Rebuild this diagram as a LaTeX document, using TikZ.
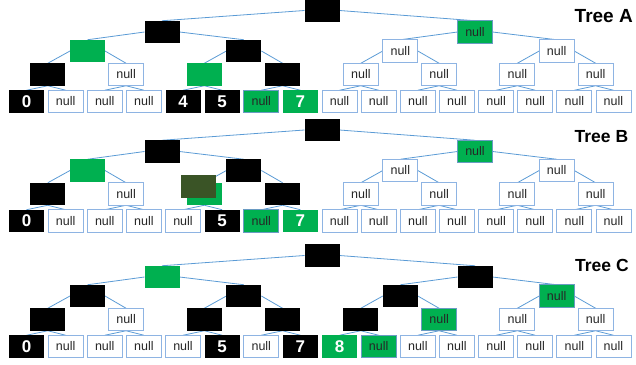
\documentclass[tikz,border=0pt]{standalone}
\usepackage{fontspec}
\setmainfont{Liberation Sans}
\pgfdeclarelayer{bg}
\pgfsetlayers{bg,main}
\definecolor{pgreen}{HTML}{00B050}
\definecolor{darkolive}{HTML}{3A5426}
\definecolor{edgeblue}{HTML}{5B9BD5}
\definecolor{nullborder}{HTML}{8EB4E3}
\definecolor{gborder}{HTML}{6A9BC3}
\definecolor{nulltext}{HTML}{262626}
\tikzset{
 bx/.style={minimum width=35pt, minimum height=22.5pt, inner sep=0pt, outer sep=0pt, font=\fontsize{12.5}{14}\selectfont},
 blk/.style={bx, fill=black},
 grn/.style={bx, fill=pgreen},
 gnull/.style={bx, fill=pgreen, draw=gborder, line width=0.9pt, text=nulltext},
 wnull/.style={bx, fill=white, draw=nullborder, line width=0.9pt, text=nulltext},
 num/.style={bx, fill=black, text=white, font=\fontsize{17}{17}\selectfont\bfseries},
 gnum/.style={num, fill=pgreen},
 olivebox/.style={bx, fill=darkolive},
 conn/.style={draw=edgeblue, line width=0.8pt},
 title/.style={anchor=base west, inner sep=0pt, font=\fontsize{19}{19}\selectfont\bfseries},
}
\newcommand\mktree[7]{%
 \foreach \s/\t [count=\i from 0] in {#3} {\node[\s] (#1-0-\i) at (322,#2) {\t};}
 \foreach \s/\t [count=\i from 0] in {#4} {\node[\s] (#1-1-\i) at ({162+313*\i},{#2+21.5}) {\t};}
 \foreach \s/\t [count=\i from 0] in {#5} {\node[\s] (#1-2-\i) at ({87.5+156.4*\i},{#2+40.5}) {\t};}
 \foreach \s/\t [count=\i from 0] in {#6} {\node[\s] (#1-3-\i) at ({47.8+78.26*\i},{#2+64}) {\t};}
 \foreach \s/\t [count=\i from 0] in {#7} {\node[\s] (#1-4-\i) at ({26.5+39.13*\i},{#2+91}) {\t};}
 \begin{pgfonlayer}{bg}
 \foreach \L/\P/\n in {1/0/1, 2/1/3, 3/2/7} {
   \foreach \i in {0,...,\n} {
     \pgfmathtruncatemacro\p{floor(\i/2)}
     \ifodd\i\relax \def\side{east}\else \def\side{west}\fi
     \draw[conn] (#1-\P-\p.\side) -- (#1-\L-\i.north);
   }
 }
 \foreach \i in {0,...,15} {
   \pgfmathtruncatemacro\p{floor(\i/2)}
   \draw[conn] (#1-3-\p.south) -- (#1-4-\i.north);
 }
 \end{pgfonlayer}
}
\begin{document}
\begin{tikzpicture}[x=1pt,y=-1pt]
\useasboundingbox (0,0) rectangle (636,364);
% Tree A
\mktree{A}{10.5}
 {blk/{}}
 {blk/{}, gnull/null}
 {grn/{}, blk/{}, wnull/null, wnull/null}
 {blk/{}, wnull/null, grn/{}, blk/{}, wnull/null, wnull/null, wnull/null, wnull/null}
 {num/0, wnull/null, wnull/null, wnull/null, num/4, num/5, gnull/null, gnum/7,
  wnull/null, wnull/null, wnull/null, wnull/null, wnull/null, wnull/null, wnull/null, wnull/null}
% Tree B
\mktree{B}{130}
 {blk/{}}
 {blk/{}, gnull/null}
 {grn/{}, blk/{}, wnull/null, wnull/null}
 {blk/{}, wnull/null, grn/{}, blk/{}, wnull/null, wnull/null, wnull/null, wnull/null}
 {num/0, wnull/null, wnull/null, wnull/null, wnull/null, num/5, gnull/null, gnum/7,
  wnull/null, wnull/null, wnull/null, wnull/null, wnull/null, wnull/null, wnull/null, wnull/null}
\node[olivebox] (Bol) at (198.5,186.5) {};
% Tree C
\mktree{C}{255.5}
 {blk/{}}
 {grn/{}, blk/{}}
 {blk/{}, blk/{}, blk/{}, gnull/null}
 {blk/{}, wnull/null, blk/{}, blk/{}, blk/{}, gnull/null, wnull/null, wnull/null}
 {num/0, wnull/null, wnull/null, wnull/null, wnull/null, num/5, wnull/null, num/7,
  gnum/8, gnull/null, wnull/null, wnull/null, wnull/null, wnull/null, wnull/null, wnull/null}
% titles
\node[title] (tA) at (574.5,22) {Tree A};
\node[title, font=\fontsize{17.5}{17.5}\selectfont\bfseries] (tB) at (574.5,142) {Tree B};
\node[title, font=\fontsize{17.5}{17.5}\selectfont\bfseries] (tC) at (575,271) {Tree C};
\end{tikzpicture}
\end{document}
